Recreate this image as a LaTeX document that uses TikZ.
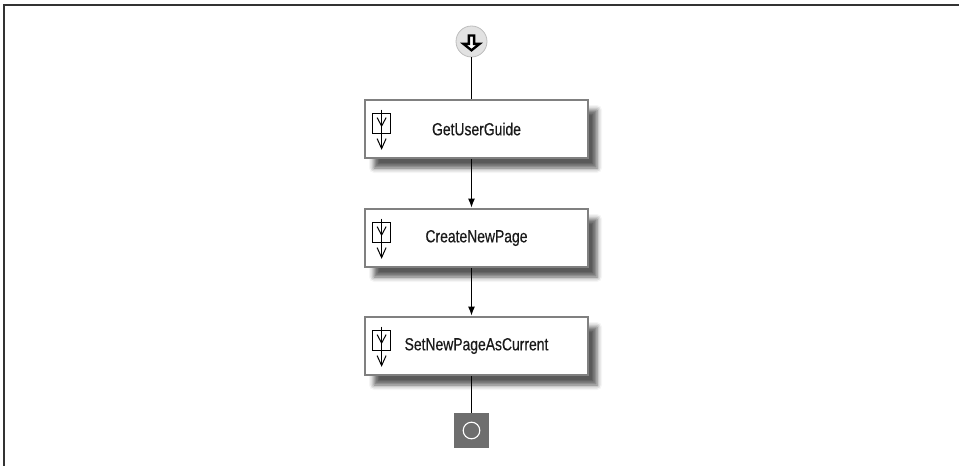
\documentclass[tikz,border=0pt]{standalone}
\usepackage{fontspec}
\setmainfont{Liberation Sans}[FakeStretch=0.79,FakeBold=0.4]
\usetikzlibrary{arrows.meta,calc,shadows.blur}
\definecolor{framegray}{HTML}{333333}
\definecolor{boxgray}{HTML}{808080}
\definecolor{endgray}{HTML}{6E6E6E}
\definecolor{startfill}{HTML}{E2E2E2}
\definecolor{startedge}{HTML}{BDBDBD}
\definecolor{txt}{HTML}{1A1A1A}
\tikzset{
  activity/.style={draw=boxgray, line width=2.8pt, fill=white, minimum width=223pt, minimum height=58pt,
    inner sep=0pt, text=txt, font=\fontsize{17.6}{20}\selectfont,
    blur shadow={shadow xshift=9pt, shadow yshift=-10pt, shadow blur radius=5pt, shadow opacity=65}},
  flow/.style={line width=1.2pt, black},
  flowarrow/.style={flow, -{Latex[length=9pt,width=7pt]}},
  icon/.style={line width=1pt, black},
}
\begin{document}
\begin{tikzpicture}[x=1pt,y=-1pt]
\useasboundingbox (0,0) rectangle (959,466);
% frame (only top and left edges visible)
\draw[framegray, line width=2pt] (4,466) -- (4,5) -- (959,5);

% start node
\node[circle, draw=startedge, line width=0.8pt, fill=startfill, minimum size=31pt, inner sep=0pt] (start) at (471.5,41.5) {};
\draw[line width=2.4pt, black, fill=white, line join=miter]
  ($(start.center)+(-2.6,-6)$) -- ($(start.center)+(2.6,-6)$) -- ($(start.center)+(2.6,2.4)$)
  -- ($(start.center)+(8,2.4)$) -- ($(start.center)+(0,8.8)$) -- ($(start.center)+(-8,2.4)$)
  -- ($(start.center)+(-2.6,2.4)$) -- cycle;

% activities
\node[activity] (b1) at (476.5,129) {GetUserGuide};
\node[activity] (b2) at (476.5,238) {CreateNewPage};
\node[activity] (b3) at (476.5,346) {SetNewPageAsCurrent};

% end node
\node[rectangle, fill=endgray, minimum size=35pt, inner sep=0pt] (end) at (471.5,430.5) {};
\draw[white, line width=1.1pt] (end.center) circle (8.3pt);

% icons inside activities
\foreach \b in {b1,b2,b3} {
  \draw[icon] ($(\b.north west)+(9,15)$) rectangle ($(\b.north west)+(27,35)$);
  \draw[icon] ($(\b.north west)+(18,11)$) -- ($(\b.north west)+(18,50)$);
  \draw[icon] ($(\b.north west)+(13.5,19)$) -- ($(\b.north west)+(18,27.5)$) -- ($(\b.north west)+(22.5,19)$);
  \draw[icon] ($(\b.north west)+(13.5,40)$) -- ($(\b.north west)+(18,50)$) -- ($(\b.north west)+(22.5,40)$);
}

% connectors
\draw[flow] (start.south) -- (start.south |- b1.north);
\draw[flowarrow] (start.south |- b1.south) -- (start.south |- b2.north);
\draw[flowarrow] (start.south |- b2.south) -- (start.south |- b3.north);
\draw[flow] (start.south |- b3.south) -- (end.north);
\end{tikzpicture}
\end{document}
